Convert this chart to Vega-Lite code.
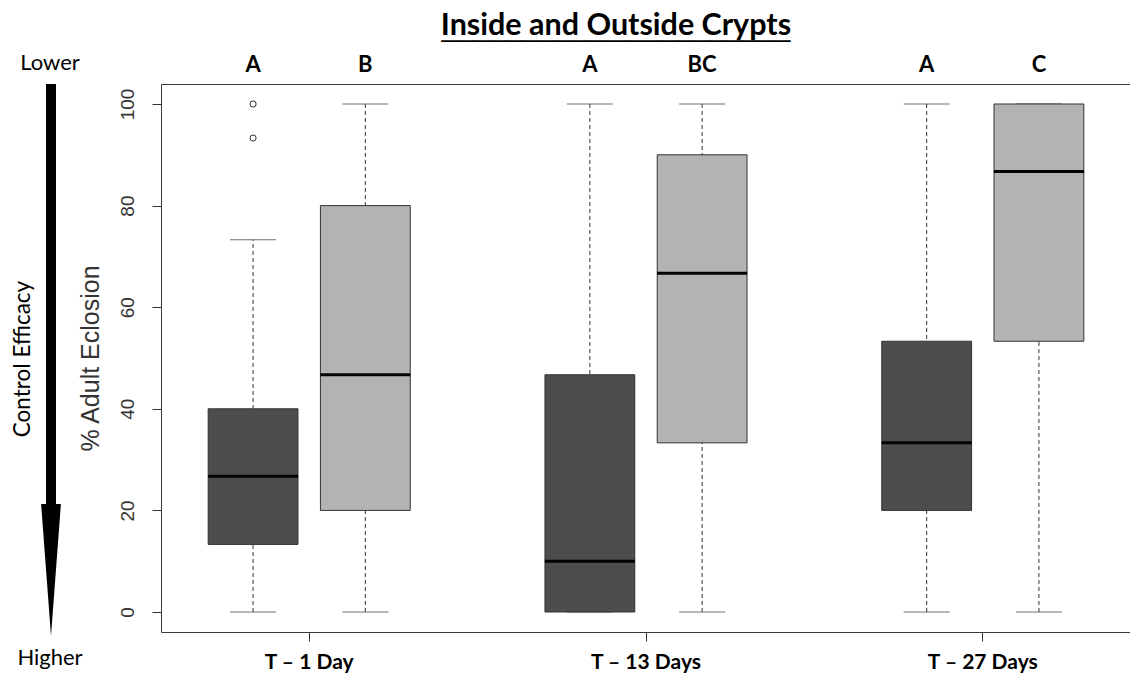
{
  "$schema": "https://vega.github.io/schema/vega-lite/v6.json",
  "padding": {"left": 0, "top": 10, "right": 0, "bottom": 0},
  "background": "white",
  "bounds": "flush",
  "spacing": 61,
  "title": {
    "text": "Inside and Outside Crypts",
    "font": "Lato",
    "fontWeight": "bold",
    "fontSize": 30.5,
    "color": "black",
    "anchor": "middle",
    "dx": 30,
    "offset": 10,
    "subtitle": "______________________",
    "subtitleFont": "Liberation Sans",
    "subtitleFontSize": 28.5,
    "subtitleColor": "black",
    "subtitlePadding": -28
  },
  "datasets": {
    "boxes": [
      {"group": "T – 1 Day", "type": "Inside", "lower": 0, "q1": 13.3, "median": 26.7, "q3": 40, "upper": 73.3, "letter": "A"},
      {"group": "T – 1 Day", "type": "Outside", "lower": 0, "q1": 20, "median": 46.7, "q3": 80, "upper": 100, "letter": "B"},
      {"group": "T – 13 Days", "type": "Inside", "lower": 0, "q1": 0, "median": 10, "q3": 46.7, "upper": 100, "letter": "A"},
      {"group": "T – 13 Days", "type": "Outside", "lower": 0, "q1": 33.3, "median": 66.7, "q3": 90, "upper": 100, "letter": "BC"},
      {"group": "T – 27 Days", "type": "Inside", "lower": 0, "q1": 20, "median": 33.3, "q3": 53.3, "upper": 100, "letter": "A"},
      {"group": "T – 27 Days", "type": "Outside", "lower": 0, "q1": 53.3, "median": 86.7, "q3": 100, "upper": 100, "letter": "C"}
    ],
    "outliers": [
      {"group": "T – 1 Day", "type": "Inside", "value": 93.3},
      {"group": "T – 1 Day", "type": "Inside", "value": 100}
    ],
    "notes": [
      {"label": "Lower"},
      {"label": "Higher"},
      {"label": "Control Efficacy"}
    ]
  },
  "hconcat": [
    {
      "width": 100,
      "height": 548,
      "view": {"stroke": null},
      "data": {"name": "notes"},
      "layer": [
        {
          "transform": [{"filter": "datum.label === 'Lower'"}],
          "mark": {"type": "rule", "color": "black", "strokeWidth": 10},
          "encoding": {
            "x": {"datum": 51, "type": "quantitative", "scale": {"domain": [0, 100], "nice": false}, "axis": null},
            "y": {"datum": 103.94, "type": "quantitative", "scale": {"domain": [-3.94, 103.94], "nice": false, "zero": false}, "axis": null},
            "y2": {"datum": 20}
          }
        },
        {
          "transform": [{"filter": "datum.label === 'Lower'"}],
          "mark": {"type": "point", "shape": "M-0.15,-1L0.15,-1L0,1Z", "size": 17424, "filled": true, "color": "black", "opacity": 1, "strokeWidth": 0},
          "encoding": {
            "x": {"datum": 51, "type": "quantitative"},
            "y": {"datum": 8.27, "type": "quantitative"}
          }
        },
        {
          "transform": [{"filter": "datum.label === 'Lower'"}],
          "mark": {"type": "text", "font": "Lato", "fontSize": 22, "color": "black", "align": "center", "baseline": "middle"},
          "encoding": {
            "x": {"datum": 50, "type": "quantitative"},
            "y": {"datum": 108.1, "type": "quantitative"},
            "text": {"field": "label"}
          }
        },
        {
          "transform": [{"filter": "datum.label === 'Higher'"}],
          "mark": {"type": "text", "font": "Lato", "fontSize": 22, "color": "black", "align": "center", "baseline": "middle"},
          "encoding": {
            "x": {"datum": 50, "type": "quantitative"},
            "y": {"datum": -9.1, "type": "quantitative"},
            "text": {"field": "label"}
          }
        },
        {
          "transform": [{"filter": "datum.label === 'Control Efficacy'"}],
          "mark": {"type": "text", "font": "Lato", "fontSize": 22.5, "color": "black", "align": "center", "baseline": "middle", "angle": 270},
          "encoding": {
            "x": {"datum": 23, "type": "quantitative"},
            "y": {"datum": 49.8, "type": "quantitative"},
            "text": {"field": "label"}
          }
        }
      ]
    },
    {
      "width": 970,
      "height": 548,
      "view": {"stroke": "#3a3a3a", "strokeWidth": 1},
      "encoding": {
        "x": {
          "field": "group",
          "type": "nominal",
          "scale": {"domain": ["T – 1 Day", "T – 13 Days", "T – 27 Days"], "paddingInner": 0, "paddingOuter": 0, "range": [-20.2, 990.2]},
          "axis": {
            "title": null,
            "domain": false,
            "ticks": true,
            "tickSize": 9,
            "tickColor": "#333333",
            "labelFont": "Lato",
            "labelFontWeight": "bold",
            "labelFontSize": 21,
            "labelColor": "black",
            "labelPadding": 10,
            "labelAngle": 0
          }
        },
        "xOffset": {
          "field": "type",
          "type": "nominal",
          "scale": {"domain": ["Inside", "Outside"], "paddingInner": 0.2, "paddingOuter": 0.6}
        }
      },
      "layer": [
        {
          "data": {"name": "boxes"},
          "mark": {"type": "rule", "color": "#333333", "strokeWidth": 1, "strokeDash": [4, 3]},
          "encoding": {
            "y": {
              "field": "lower",
              "type": "quantitative",
              "scale": {"domain": [-3.94, 103.94], "nice": false, "zero": false},
              "axis": {
                "title": "% Adult Eclosion",
                "titleFont": "Liberation Sans",
                "titleFontSize": 25,
                "titleFontWeight": "normal",
                "titleColor": "#333333",
                "titlePadding": 15,
                "values": [0, 20, 40, 60, 80, 100],
                "grid": false,
                "domain": false,
                "tickSize": 9,
                "tickColor": "#333333",
                "labelFont": "Liberation Sans",
                "labelFontSize": 19,
                "labelColor": "#333333",
                "labelAngle": 270,
                "labelAlign": "center",
                "labelBaseline": "bottom",
                "labelPadding": 15
              }
            },
            "y2": {"field": "upper"}
          }
        },
        {
          "data": {"name": "boxes"},
          "mark": {"type": "tick", "color": "#333333", "size": 46, "thickness": 1},
          "encoding": {"y": {"field": "lower", "type": "quantitative"}}
        },
        {
          "data": {"name": "boxes"},
          "mark": {"type": "tick", "color": "#333333", "size": 46, "thickness": 1},
          "encoding": {"y": {"field": "upper", "type": "quantitative"}}
        },
        {
          "data": {"name": "boxes"},
          "mark": {"type": "bar", "stroke": "#333333", "strokeWidth": 1, "opacity": 1},
          "encoding": {
            "y": {"field": "q1", "type": "quantitative"},
            "y2": {"field": "q3"},
            "color": {
              "field": "type",
              "type": "nominal",
              "scale": {"domain": ["Inside", "Outside"], "range": ["#4d4d4d", "#b3b3b3"]},
              "legend": null
            }
          }
        },
        {
          "data": {"name": "boxes"},
          "mark": {"type": "tick", "color": "black", "size": 90, "thickness": 3, "opacity": 1},
          "encoding": {"y": {"field": "median", "type": "quantitative"}}
        },
        {
          "data": {"name": "outliers"},
          "mark": {"type": "point", "shape": "circle", "size": 38, "filled": false, "stroke": "#333333", "strokeWidth": 1, "opacity": 1},
          "encoding": {"y": {"field": "value", "type": "quantitative"}}
        },
        {
          "data": {"name": "boxes"},
          "mark": {"type": "text", "font": "Lato", "fontWeight": "bold", "fontSize": 22, "color": "black", "align": "center", "baseline": "middle"},
          "encoding": {
            "y": {"datum": 107.6, "type": "quantitative"},
            "text": {"field": "letter"}
          }
        }
      ]
    }
  ]
}
